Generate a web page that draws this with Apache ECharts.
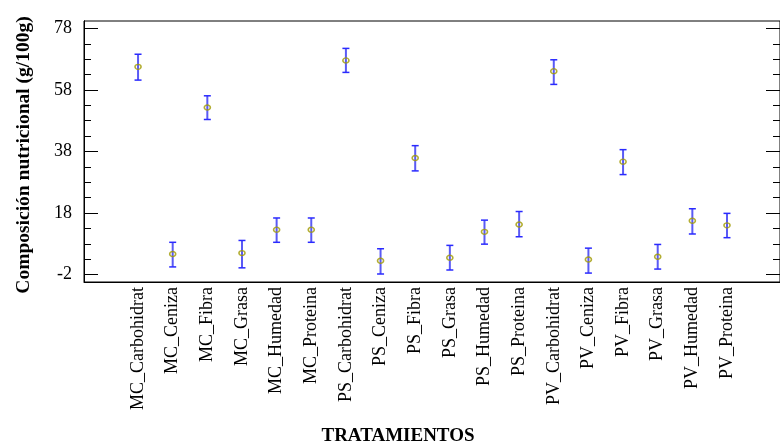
<!DOCTYPE html>
<html>
<head>
<meta charset="utf-8">
<script src="https://cdn.jsdelivr.net/npm/echarts@6/dist/echarts.min.js"></script>
<style>
html,body{margin:0;padding:0;background:#fff;}
#chart{width:780px;height:445px;}
</style>
</head>
<body>
<div id="chart"></div>
<script>
const categories = ["MC_Carbohidrat","MC_Ceniza","MC_Fibra","MC_Grasa","MC_Humedad","MC_Proteina",
  "PS_Carbohidrat","PS_Ceniza","PS_Fibra","PS_Grasa","PS_Humedad","PS_Proteina",
  "PV_Carbohidrat","PV_Ceniza","PV_Fibra","PV_Grasa","PV_Humedad","PV_Proteina"];
const means = [65.5, 4.7, 52.3, 5.0, 12.6, 12.6, 67.6, 2.5, 35.9, 3.5, 11.9, 14.3, 64.1, 2.9, 34.7, 3.8, 15.5, 14.0];
const lower = [61.2, 0.5, 48.4, 0.2, 8.5, 8.5, 63.7, -1.8, 31.7, -0.5, 7.9, 10.3, 59.8, -1.5, 30.5, -0.2, 11.2, 10.0];
const upper = [69.6, 8.5, 56.1, 9.1, 16.4, 16.4, 71.5, 6.4, 39.9, 7.5, 15.7, 18.5, 67.8, 6.6, 38.6, 7.8, 19.4, 17.9];
const yMajorTicks = [-2, 18, 38, 58, 78];
const yMinorTicks = [-2, 3, 8, 13, 18, 23, 28, 33, 38, 43, 48, 53, 58, 63, 68, 73, 78];
const yTitle = "Composición nutricional (g/100g)";
const xTitle = "TRATAMIENTOS";

const FONT = "'Liberation Serif', 'Times New Roman', serif";
const idx = categories.map((c, i) => i);

const chart = echarts.init(document.getElementById('chart'), null, {renderer: 'canvas'});

const yBase = {
  type: 'value', min: -4.4, max: 80.4, splitLine: {show: false},
  axisLine: {show: true, onZero: false, lineStyle: {color: '#000', width: 1}}
};

const option = {
  animation: false,
  backgroundColor: '#fff',
  grid: {left: 84, top: 21, width: 707, height: 261, show: true, borderColor: '#000', borderWidth: 1, backgroundColor: 'transparent'},
  xAxis: [{
    type: 'value', min: -1.56, max: 18.53,
    splitLine: {show: false},
    axisLine: {show: true, onZero: false, lineStyle: {color: '#000', width: 1}},
    axisTick: {show: false},
    axisLabel: {
      customValues: idx, rotate: 90, margin: 5, color: '#000',
      fontFamily: FONT, fontSize: 18,
      formatter: v => categories[Math.round(v)] || ''
    }
  }],
  yAxis: [
    Object.assign({}, yBase, {
      position: 'left',
      axisTick: {show: true, inside: true, length: 14, customValues: yMajorTicks, lineStyle: {color: '#000'}},
      axisLabel: {customValues: yMajorTicks, margin: 12, color: '#000', fontFamily: FONT, fontSize: 18}
    }),
    Object.assign({}, yBase, {
      position: 'left',
      axisTick: {show: true, inside: true, length: 7, customValues: yMinorTicks, lineStyle: {color: '#000'}},
      axisLabel: {show: false}
    }),
    Object.assign({}, yBase, {
      position: 'right',
      axisTick: {show: true, inside: true, length: 14, customValues: yMajorTicks, lineStyle: {color: '#000'}},
      axisLabel: {show: false}
    }),
    Object.assign({}, yBase, {
      position: 'right',
      axisTick: {show: true, inside: true, length: 7, customValues: yMinorTicks, lineStyle: {color: '#000'}},
      axisLabel: {show: false}
    })
  ],
  graphic: [
    {type: 'text', x: 24, y: 155, rotation: Math.PI / 2,
      style: {text: yTitle, font: "bold 19.5px " + FONT, fill: '#000', align: 'center', verticalAlign: 'middle'}},
    {type: 'text', x: 398, y: 436,
      style: {text: xTitle, font: "bold 19px " + FONT, fill: '#000', align: 'center', verticalAlign: 'middle'}}
  ],
  series: [
    {
      type: 'custom',
      xAxisIndex: 0, yAxisIndex: 0,
      data: idx.map(i => [i, lower[i], upper[i]]),
      renderItem: function (params, api) {
        const x = api.value(0);
        const lo = api.coord([x, api.value(1)]);
        const hi = api.coord([x, api.value(2)]);
        const hw = 3.5;
        return {
          type: 'group',
          children: [
            {type: 'line', shape: {x1: lo[0], y1: lo[1], x2: hi[0], y2: hi[1]},
              style: {stroke: '#5a5af5', lineWidth: 2}},
            {type: 'line', shape: {x1: hi[0] - hw, y1: hi[1], x2: hi[0] + hw, y2: hi[1]},
              style: {stroke: '#2a2aff', lineWidth: 1.5}},
            {type: 'line', shape: {x1: lo[0] - hw, y1: lo[1], x2: lo[0] + hw, y2: lo[1]},
              style: {stroke: '#2a2aff', lineWidth: 1.5}}
          ]
        };
      },
      z: 2
    },
    {
      type: 'scatter',
      xAxisIndex: 0, yAxisIndex: 0,
      data: idx.map(i => [i, means[i]]),
      symbol: 'circle', symbolSize: [6, 5],
      itemStyle: {color: 'rgba(0,0,0,0)', borderColor: '#a09a00', borderWidth: 1.5},
      z: 3
    }
  ]
};
chart.setOption(option);
</script>
</body>
</html>
